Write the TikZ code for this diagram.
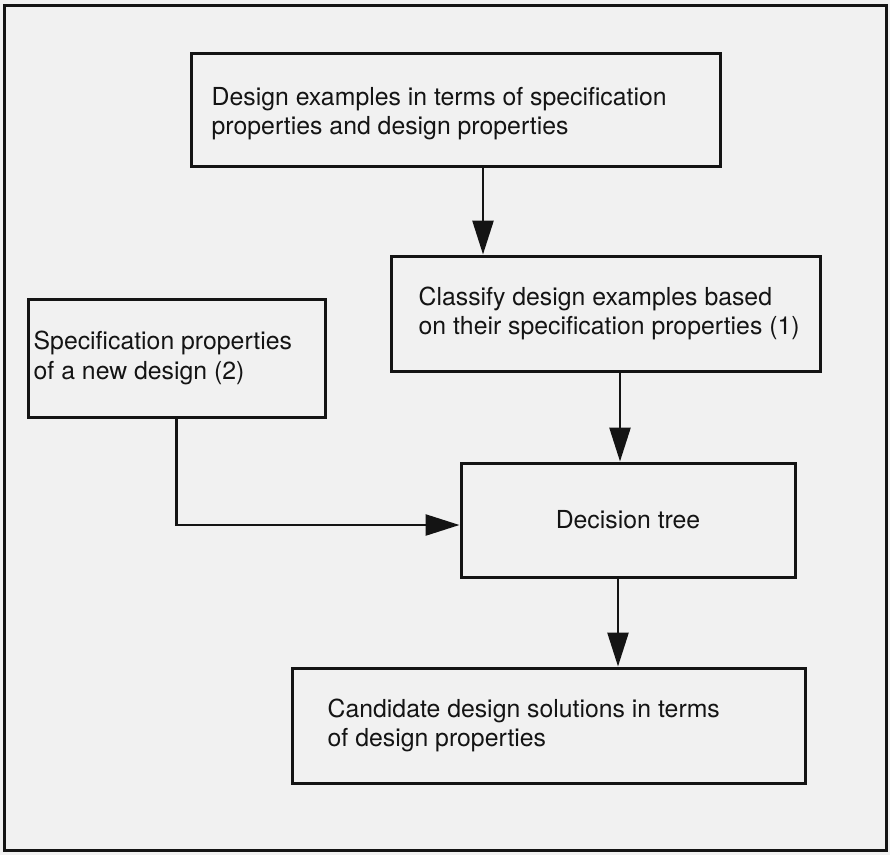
\documentclass[tikz,border=0pt]{standalone}
\usepackage{fontspec}
\setmainfont{TeX Gyre Heros}
\usetikzlibrary{arrows.meta}
\definecolor{paper}{RGB}{241,241,241}
\definecolor{ink}{RGB}{20,20,20}
\begin{document}
\begin{tikzpicture}[x=1pt,y=-1pt,
  stepbox/.style={draw=ink, line width=3pt, rectangle, inner sep=0pt},
  lbl/.style={anchor=west, align=left, text=ink, inner sep=0pt,
    font=\fontsize{24.8pt}{29.5pt}\selectfont},
  arr/.style={draw=ink, line width=2.6pt, -{Triangle[length=34pt,width=21pt]}}]
  % page background and frame
  \fill[paper] (0,0) rectangle (890,855);
  \draw[ink, line width=3pt] (4,5) rectangle (886,850);

  % boxes
  \node[stepbox, minimum width=529pt, minimum height=113pt,
    label={[lbl, xshift=22pt, yshift=-4pt]west:Design examples in terms of specification\\properties and design properties}]
    (a) at (455.5,109.5) {};
  \node[stepbox, minimum width=429pt, minimum height=115pt,
    label={[lbl, xshift=29pt]west:Classify design examples based\\on their specification properties (1)}]
    (b) at (605.5,313.5) {};
  \node[stepbox, minimum width=297pt, minimum height=118pt,
    label={[lbl, xshift=7pt]west:Specification properties\\of a new design (2)}]
    (c) at (176.5,358) {};
  \node[stepbox, minimum width=334pt, minimum height=114pt,
    font=\fontsize{24.8pt}{29.5pt}\selectfont, text=ink]
    (d) at (628,520) {Decision tree};
  \node[stepbox, minimum width=513pt, minimum height=115pt,
    label={[lbl, xshift=37pt]west:Candidate design solutions in terms\\of design properties}]
    (e) at (548.5,725.5) {};

  % connectors
  \draw[arr] ([xshift=27.5pt]a.south) -- ([xshift=27.5pt]a.south |- b.north);
  \draw[arr] ([xshift=14.5pt]b.south) -- ([xshift=14.5pt]b.south |- d.north);
  \draw[arr] (c.south) |- ([yshift=-5pt]d.west);
  \draw[arr] ([xshift=-10pt]d.south) -- ([xshift=-10pt]d.south |- e.north);
\end{tikzpicture}
\end{document}
